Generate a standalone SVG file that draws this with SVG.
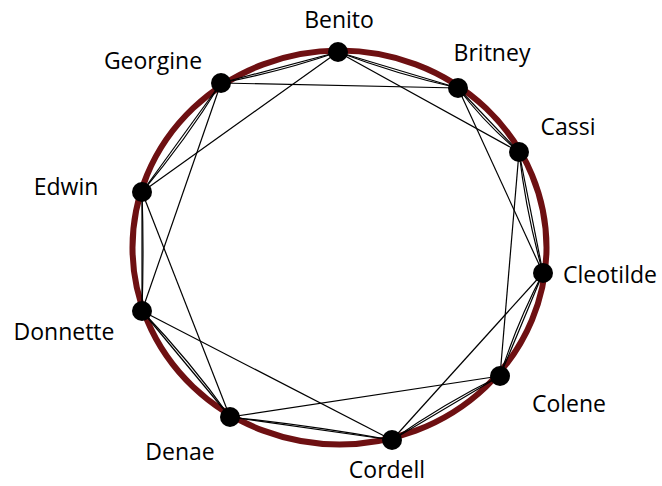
<svg xmlns="http://www.w3.org/2000/svg" width="662" height="486" viewBox="0 0 662 486">
<style>
.ring{fill:none;stroke:#6e1012;stroke-width:6}
.e{fill:none;stroke:#000;stroke-width:1.2}
.n{fill:#000}
.l{font-family:"Open Sans","Liberation Sans",sans-serif;font-size:23px;fill:#000;text-anchor:middle}
</style>
<rect width="662" height="486" fill="#fff"/>
<ellipse class="ring" cx="339.5" cy="247.5" rx="207" ry="197"/>
<g id="edges">
<line class="e" x1="338" y1="52" x2="458" y2="88"/>
<path class="e" d="M338,52 Q396.6,74.3 458,88"/>
<line class="e" x1="458" y1="88" x2="519" y2="152"/>
<path class="e" d="M458,88 Q484.7,123.2 519,152"/>
<line class="e" x1="519" y1="152" x2="543" y2="273"/>
<path class="e" d="M519,152 Q526.1,213.4 543,273"/>
<line class="e" x1="543" y1="273" x2="500" y2="376"/>
<path class="e" d="M543,273 Q516.9,322.5 500,376"/>
<line class="e" x1="500" y1="376" x2="392" y2="440"/>
<path class="e" d="M500,376 Q443.2,403.8 392,440"/>
<line class="e" x1="392" y1="440" x2="230" y2="417"/>
<path class="e" d="M392,440 Q311.5,425.5 230,417"/>
<line class="e" x1="230" y1="417" x2="142" y2="311"/>
<path class="e" d="M230,417 Q190,361 142,311"/>
<line class="e" x1="142" y1="311" x2="142" y2="192"/>
<path class="e" d="M142,311 Q144,251.5 142,192"/>
<line class="e" x1="142" y1="192" x2="221" y2="83"/>
<path class="e" d="M142,192 Q185.6,140.4 221,83"/>
<line class="e" x1="221" y1="83" x2="338" y2="52"/>
<path class="e" d="M221,83 Q280.8,71.7 338,52"/>
<line class="e" x1="338" y1="52" x2="519" y2="152"/>
<line class="e" x1="338" y1="52" x2="142" y2="192"/>
<line class="e" x1="221" y1="83" x2="458" y2="88"/>
<line class="e" x1="221" y1="83" x2="142" y2="311"/>
<line class="e" x1="458" y1="88" x2="543" y2="273"/>
<line class="e" x1="519" y1="152" x2="500" y2="376"/>
<line class="e" x1="543" y1="273" x2="392" y2="440"/>
<line class="e" x1="500" y1="376" x2="230" y2="417"/>
<line class="e" x1="392" y1="440" x2="142" y2="311"/>
<line class="e" x1="230" y1="417" x2="142" y2="192"/>
</g>
<g id="benito"><circle class="n" cx="338" cy="52" r="10"/><text class="l" x="339" y="28">Benito</text></g>
<g id="britney"><circle class="n" cx="458" cy="88" r="10"/><text class="l" x="492" y="61">Britney</text></g>
<g id="cassi"><circle class="n" cx="519" cy="152" r="10"/><text class="l" x="568" y="135">Cassi</text></g>
<g id="cleotilde"><circle class="n" cx="543" cy="273" r="10"/><text class="l" x="610" y="283">Cleotilde</text></g>
<g id="colene"><circle class="n" cx="500" cy="376" r="10"/><text class="l" x="569" y="412">Colene</text></g>
<g id="cordell"><circle class="n" cx="392" cy="440" r="10"/><text class="l" x="387" y="478">Cordell</text></g>
<g id="denae"><circle class="n" cx="230" cy="417" r="10"/><text class="l" x="180" y="460">Denae</text></g>
<g id="donnette"><circle class="n" cx="142" cy="311" r="10"/><text class="l" x="64" y="340">Donnette</text></g>
<g id="edwin"><circle class="n" cx="142" cy="192" r="10"/><text class="l" x="66" y="195">Edwin</text></g>
<g id="georgine"><circle class="n" cx="221" cy="83" r="10"/><text class="l" x="153" y="69">Georgine</text></g>
</svg>
